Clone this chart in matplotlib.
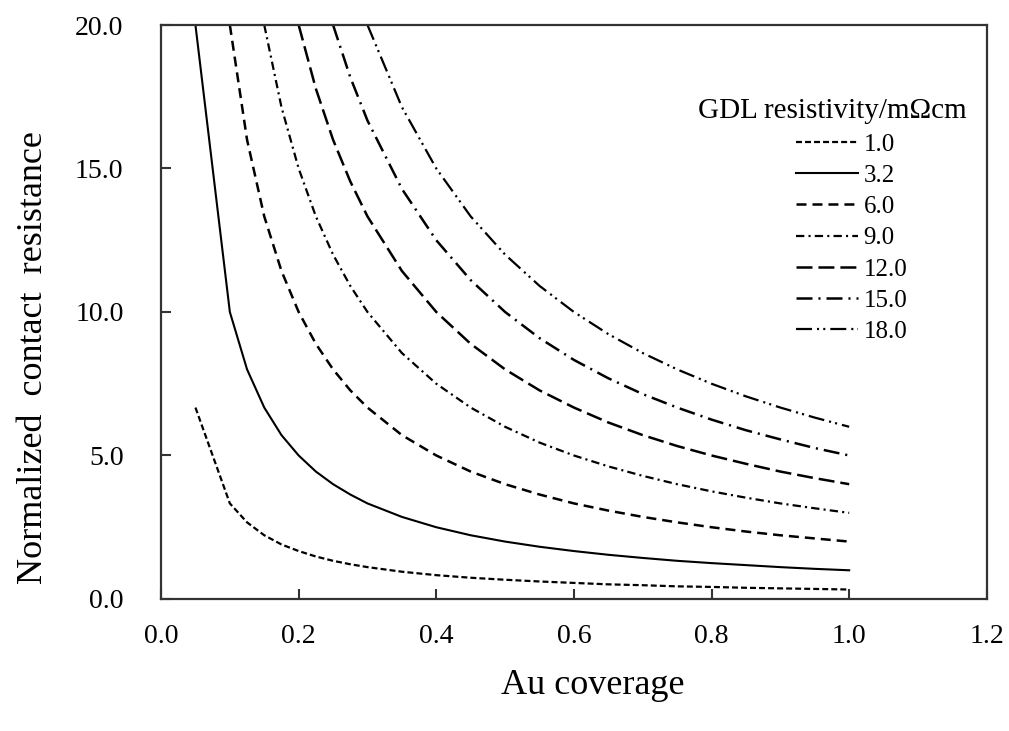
import matplotlib.pyplot as plt

plt.rcParams['font.family'] = ['Liberation Serif', 'DejaVu Serif']
plt.rcParams['lines.scale_dashes'] = False

# Au coverage (x) and normalized contact resistance
coverage = [0.05, 0.10, 0.125, 0.15, 0.175, 0.20, 0.225, 0.25, 0.275, 0.30,
            0.35, 0.40, 0.45, 0.50, 0.55, 0.60, 0.65, 0.70, 0.75, 0.80,
            0.85, 0.90, 0.95, 1.00]

r_1_0 = [6.67, 3.33, 2.67, 2.22, 1.90, 1.67, 1.48, 1.33, 1.21, 1.11,
         0.95, 0.83, 0.74, 0.67, 0.61, 0.56, 0.51, 0.48, 0.44, 0.42,
         0.39, 0.37, 0.35, 0.33]
r_3_2 = [20.0, 10.0, 8.00, 6.67, 5.71, 5.00, 4.44, 4.00, 3.64, 3.33,
         2.86, 2.50, 2.22, 2.00, 1.82, 1.67, 1.54, 1.43, 1.33, 1.25,
         1.18, 1.11, 1.05, 1.00]
r_6_0 = [20.0, 16.0, 13.33, 11.43, 10.0, 8.89, 8.00, 7.27, 6.67,
         5.71, 5.00, 4.44, 4.00, 3.64, 3.33, 3.08, 2.86, 2.67, 2.50,
         2.35, 2.22, 2.11, 2.00]
r_9_0 = [20.0, 17.14, 15.0, 13.33, 12.0, 10.91, 10.0,
         8.57, 7.50, 6.67, 6.00, 5.45, 5.00, 4.62, 4.29, 4.00, 3.75,
         3.53, 3.33, 3.16, 3.00]
r_12_0 = [20.0, 17.78, 16.0, 14.55, 13.33,
          11.43, 10.0, 8.89, 8.00, 7.27, 6.67, 6.15, 5.71, 5.33, 5.00,
          4.71, 4.44, 4.21, 4.00]
r_15_0 = [20.0, 18.18, 16.67,
          14.29, 12.50, 11.11, 10.0, 9.09, 8.33, 7.69, 7.14, 6.67, 6.25,
          5.88, 5.56, 5.26, 5.00]
r_18_0 = [20.0,
          17.14, 15.0, 13.33, 12.0, 10.91, 10.0, 9.23, 8.57, 8.00, 7.50,
          7.06, 6.67, 6.32, 6.00]

labels = ['1.0', '3.2', '6.0', '9.0', '12.0', '15.0', '18.0']
series = [r_1_0, r_3_2, r_6_0, r_9_0, r_12_0, r_15_0, r_18_0]

dashes = [(0, (4.3, 2.2)),
          '-',
          (0, (7.2, 4.3)),
          (0, (6.0, 3.0, 1.5, 3.0)),
          (0, (11.5, 4.3)),
          (0, (11.5, 4.3, 1.5, 4.3)),
          (0, (11.5, 3.6, 1.5, 3.0, 1.5, 3.6))]
widths = [1.6, 1.5, 1.8, 1.6, 1.8, 1.8, 1.6]

fig = plt.figure(figsize=(10.09, 7.31), dpi=100)
ax = fig.add_axes([0.1596, 0.1806, 0.8184, 0.7852])

for lab, ys, ls, lw in zip(labels, series, dashes, widths):
    # each curve starts where it enters the plot, all end at coverage 1.0
    xs = coverage[len(coverage) - len(ys):]
    ax.plot(xs, ys, color='black', linestyle=ls, lw=lw, label=lab)

ax.set_xlim(0, 1.2)
ax.set_ylim(0, 20)
ax.set_xticks([0.0, 0.2, 0.4, 0.6, 0.8, 1.0, 1.2])
ax.set_yticks([0, 5, 10, 15, 20])
ax.xaxis.set_major_formatter(plt.FormatStrFormatter('%.1f'))
ax.yaxis.set_major_formatter(plt.FormatStrFormatter('%.1f'))
ax.tick_params(axis='both', direction='in', length=7, width=1.5,
               labelsize=20, color='#333333')
ax.tick_params(axis='x', pad=18)
ax.tick_params(axis='y', pad=27)
for sp in ax.spines.values():
    sp.set_linewidth(1.6)
    sp.set_color('#333333')

ax.set_xlabel('Au coverage', fontsize=26)
ax.xaxis.set_label_coords(0.523, -0.122)
ax.set_ylabel('Normalized  contact  resistance', fontsize=26)
ax.yaxis.set_label_coords(-0.134, 0.42)

# legend title drawn apart so the entries can sit right of its centre
ax.text(0.813, 0.850, 'GDL resistivity/m\u03a9cm', transform=ax.transAxes,
        ha='center', va='center', fontsize=21)
leg = ax.legend(loc='upper left', bbox_to_anchor=(0.7688, 0.8115),
                frameon=False, fontsize=18, handlelength=2.5,
                handletextpad=0.2, labelspacing=0.35, borderpad=0,
                borderaxespad=0)

fig.savefig('out.png', dpi=100)
